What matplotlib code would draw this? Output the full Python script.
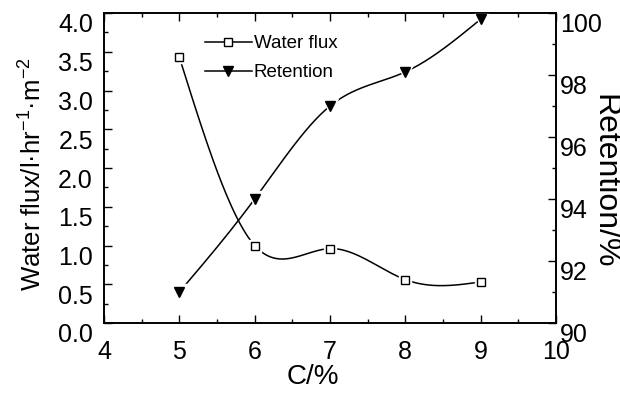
import numpy as np
import matplotlib
matplotlib.use('Agg')
import matplotlib.pyplot as plt
import matplotlib.transforms as mtransforms
from matplotlib.ticker import MultipleLocator
from matplotlib.lines import Line2D

# data
conc = [5, 6, 7, 8, 9]
water_flux = [3.43, 1.00, 0.96, 0.56, 0.53]
retention = [91.0, 94.0, 97.0, 98.1, 99.8]

plt.rcParams['font.family'] = 'Liberation Sans'
plt.rcParams['mathtext.fontset'] = 'custom'
plt.rcParams['mathtext.rm'] = 'Liberation Sans'
plt.rcParams['mathtext.default'] = 'regular'


def spline(x, y, n=200):
    # natural cubic spline, only used to draw the smooth connecting line
    x = np.asarray(x, float)
    y = np.asarray(y, float)
    m = len(x)
    h = np.diff(x)
    A = np.zeros((m, m))
    b = np.zeros(m)
    A[0, 0] = A[-1, -1] = 1
    for i in range(1, m - 1):
        A[i, i - 1] = h[i - 1]
        A[i, i] = 2 * (h[i - 1] + h[i])
        A[i, i + 1] = h[i]
        b[i] = 3 * ((y[i + 1] - y[i]) / h[i] - (y[i] - y[i - 1]) / h[i - 1])
    c = np.linalg.solve(A, b)
    xs = np.linspace(x[0], x[-1], n)
    k = np.clip(np.searchsorted(x, xs) - 1, 0, m - 2)
    t = xs - x[k]
    bb = (y[k + 1] - y[k]) / h[k] - h[k] * (2 * c[k] + c[k + 1]) / 3
    d = (c[k + 1] - c[k]) / (3 * h[k])
    ys = y[k] + bb * t + c[k] * t ** 2 + d * t ** 3
    return xs, ys


fig = plt.figure(figsize=(6.2, 3.95), dpi=100)
ax = fig.add_axes([104 / 620, 1 - 323 / 395, 452 / 620, 310 / 395])
ax2 = ax.twinx()

xs, ys = spline(conc, water_flux)
ax.plot(xs, ys, color='black', lw=1.1)
ax.plot(conc, water_flux, ls='none', marker='s', ms=9, mfc='white', mec='white')
ax.plot(conc, water_flux, ls='none', marker='s', ms=5.5, mfc='white', mec='black', mew=1.0)

xs, ys = spline(conc, retention)
ax2.plot(xs, ys, color='black', lw=1.1)
ax2.plot(conc, retention, ls='none', marker='v', ms=11, mfc='white', mec='white')
ax2.plot(conc, retention, ls='none', marker='v', ms=7, mfc='black', mec='black')

ax.set_xlim(4, 10)
ax.set_ylim(0, 4)
ax2.set_ylim(90, 100)
ax.xaxis.set_major_locator(MultipleLocator(1))
ax.xaxis.set_minor_locator(MultipleLocator(0.5))
ax.yaxis.set_major_locator(MultipleLocator(0.5))
ax.yaxis.set_minor_locator(MultipleLocator(0.25))
ax2.yaxis.set_major_locator(MultipleLocator(2))
ax2.yaxis.set_minor_locator(MultipleLocator(1))

ax.tick_params(which='both', direction='in', top=True, right=False, width=1)
ax.tick_params(which='major', length=6, labelsize=18)
ax.tick_params(which='minor', length=3)
ax.tick_params(axis='x', pad=12)
ax.tick_params(axis='y', pad=8)
ax2.tick_params(which='both', direction='in', width=1)
ax2.tick_params(which='major', length=6, labelsize=18, pad=3)
ax2.tick_params(which='minor', length=3)

# y tick labels sit a little lower than their ticks in the original
shift = mtransforms.ScaledTranslation(0, -10 / 100, fig.dpi_scale_trans)
for lab in ax.get_yticklabels() + ax2.get_yticklabels():
    lab.set_transform(lab.get_transform() + shift)

for a in (ax, ax2):
    for s in a.spines.values():
        s.set_linewidth(1.2)

ax.set_xlabel('C/%', fontsize=20, va='center')
ax.xaxis.set_label_coords(0.462, -0.175)
ax.set_ylabel('Water flux/l·hr$^{-1}$·m$^{-2}$', fontsize=18.5, va='center')
ax.yaxis.set_label_coords(-0.158, 0.48)
ax2.set_ylabel('Retention/%', fontsize=23, rotation=270, va='center')
ax2.yaxis.set_label_coords(1.106, 0.458)

h1 = Line2D([], [], color='black', lw=1.1, marker='s', ms=5.5, mfc='white', mec='black')
h2 = Line2D([], [], color='black', lw=1.1, marker='v', ms=7, mfc='black')
fig.legend([h1, h2], ['Water flux', 'Retention'], loc='upper left',
           bbox_to_anchor=(205 / 620, 1 - 35 / 395), frameon=False, fontsize=13.5,
           borderpad=0, borderaxespad=0, handlelength=2.5, handletextpad=0.1,
           labelspacing=0.65)

fig.savefig('out.png', dpi=100)
